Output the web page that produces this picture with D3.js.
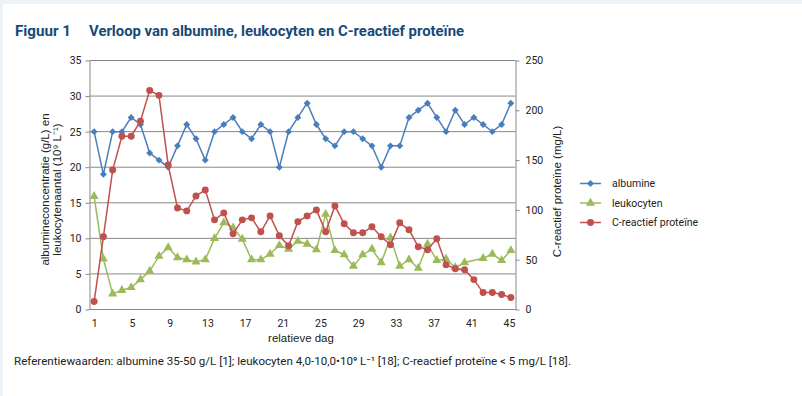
<!DOCTYPE html>
<html>
<head>
<meta charset="utf-8">
<script src="https://cdn.jsdelivr.net/npm/d3@7"></script>
<style>
  body { margin: 0; background: #fff; }
  svg { display: block; }
</style>
</head>
<body>
<script>
///////// data /////////
// meetmoment (46 punten) - de as toont dag 1..45
var meting = [1,2,3,4,5,6,7,8,9,10,11,12,13,14,15,16,17,18,19,20,21,22,23,
              24,25,26,27,28,29,30,31,32,33,34,35,36,37,38,39,40,41,42,43,44,45,46]
var dagTicks = [1,5,9,13,17,21,25,29,33,37,41,45]
var linksTicks = [0,5,10,15,20,25,30,35]
var rechtsTicks = [0,50,100,150,200,250]

var albumine = [25,19,25,25,27,26,22,21,20,23,26,24,21,25,26,27,25,24,26,25,20,25,27,
                29,26,24,23,25,25,24,23,20,23,23,27,28,29,27,25,28,26,27,26,25,26,29]
var leukocyten = [15.9,7.1,2.2,2.7,3.1,4.2,5.4,7.5,8.7,7.3,7.0,6.7,7.0,10.0,12.2,11.5,9.9,7.0,7.0,7.8,9.0,8.5,9.6,
                  9.2,8.4,13.4,8.3,7.7,6.1,7.7,8.5,6.6,10.1,6.1,7.0,5.8,9.2,6.9,7.1,5.9,6.6,null,7.2,7.8,6.9,8.3]
var crp = [8,73,140,174,174,189,220,215,145,102,99,114,120,90,97,76,90,92,78,94,74,64,88,
           94,100,78,104,86,77,77,83,73,65,87,80,63,60,71,45,41,40,30,17,17,15,12]

var reeksNamen = ['albumine', 'leukocyten', 'C-reactief proteïne']
var kleuren = ['#4a7ebb', '#9bbb59', '#c0504d']

///////// layout /////////
var width = 802
var height = 396
var pLeft = 89.5, pRight = 515.5, pTop = 60.5, pBottom = 309.5
var tickFont = 'Roboto, "Liberation Sans", sans-serif'
var titleFont = '"Liberation Sans", Arial, sans-serif'

var svg = d3.select('body').append('svg').attr('width', width).attr('height', height)

// lichte rand links/boven
svg.append('rect').attr('width', width).attr('height', height).attr('fill', '#edf2f7')
svg.append('rect').attr('x', 3).attr('y', 4).attr('width', width - 3).attr('height', height - 4).attr('fill', '#fff')

// scales
var x = d3.scaleBand().domain(meting).range([pLeft, pRight])
var xMid = function(d){ return x(d) + x.bandwidth() / 2 }
var xDag = d3.scaleLinear().domain([1, 45]).range([94.3, 509])
var yL = d3.scaleLinear().domain([0, 35]).range([pBottom, pTop])
var yR = d3.scaleLinear().domain([0, 250]).range([pBottom, pTop])

// titel
var titel = svg.append('g').attr('font-family', tickFont).attr('font-weight', 'bold')
               .attr('font-size', 15).attr('fill', '#164a78')
titel.append('text').attr('x', 15).attr('y', 36).text('Figuur 1')
     .attr('textLength', 56).attr('lengthAdjust', 'spacingAndGlyphs')
titel.append('text').attr('x', 89).attr('y', 36).text('Verloop van albumine, leukocyten en C-reactief proteïne')
     .attr('textLength', 375).attr('lengthAdjust', 'spacingAndGlyphs')

// gridlijnen
svg.append('g').selectAll('line').data(linksTicks).enter().append('line')
   .attr('x1', pLeft).attr('x2', pRight)
   .attr('y1', function(d){ return yL(d) }).attr('y2', function(d){ return yL(d) })
   .attr('stroke', '#878787').attr('stroke-width', 1)

function styleAxis(g) {
    g.select('.domain').attr('stroke', '#878787')
    g.selectAll('.tick line').attr('stroke', '#878787')
    g.selectAll('.tick text').attr('fill', '#222').attr('font-family', tickFont).attr('font-size', 10.5)
}

var axL = svg.append('g').attr('transform', 'translate(' + pLeft + ',0)')
   .call(d3.axisLeft(yL).tickValues(linksTicks).tickSize(4).tickPadding(4).tickSizeOuter(0))
styleAxis(axL)

var axR = svg.append('g').attr('transform', 'translate(' + pRight + ',0)')
   .call(d3.axisRight(yR).tickValues(rechtsTicks).tickSize(4).tickPadding(6).tickSizeOuter(0))
styleAxis(axR)

var axB = svg.append('g').attr('transform', 'translate(0,' + pBottom + ')')
   .call(d3.axisBottom(xDag).tickValues(dagTicks).tickSize(0).tickPadding(10))
axB.select('.domain').remove()
styleAxis(axB)
svg.append('line').attr('x1', pLeft).attr('x2', pRight).attr('y1', pBottom).attr('y2', pBottom).attr('stroke', '#878787')

// as-titels
var asTitel = svg.append('g').attr('font-family', titleFont).attr('font-size', 11.5).attr('fill', '#222')
                 .attr('text-anchor', 'middle')
var lt = asTitel.append('text').attr('transform', 'translate(49,189.5) rotate(-90)')
lt.append('tspan').attr('x', 0).attr('y', 0).text('albumineconcentratie (g/L) en')
lt.append('tspan').attr('x', 0).attr('y', 12).text('leukocytenaantal (10⁹ L⁻¹)')
asTitel.append('text').attr('transform', 'translate(561,191.5) rotate(-90)').text('C-reactief proteïne (mg/L)')
asTitel.append('text').attr('x', 301).attr('y', 342).text('relatieve dag')

// lijnen
function lijn(y) {
    return d3.line().x(function(d){ return xMid(d.m) }).y(function(d){ return y(d.v) })
}
function punten(waarden) {
    return meting.map(function(m, i){ return { m: m, v: waarden[i] } })
}

var reeksen = [
    { data: punten(albumine), y: yL, sym: 'ruit' },
    { data: punten(leukocyten), y: yL, sym: 'driehoek' },
    { data: punten(crp), y: yR, sym: 'cirkel' }
]

function symbool(s) {
    if (s === 'ruit') return d3.symbol().type(d3.symbolSquare).size(24)
    if (s === 'driehoek') return d3.symbol().type(d3.symbolTriangle).size(36)
    return d3.symbol().type(d3.symbolCircle).size(38)
}

reeksen.forEach(function(r, i) {
    var g = svg.append('g')
    // lege cellen overbruggen zoals in de bron
    var geldig = r.data.filter(function(d){ return d.v !== null })
    g.append('path').datum(geldig).attr('d', lijn(r.y))
     .attr('fill', 'none').attr('stroke', kleuren[i]).attr('stroke-width', 1.5)
    g.selectAll('path.m').data(geldig).enter().append('path').attr('class', 'm')
     .attr('d', symbool(r.sym))
     .attr('transform', function(d){
         return 'translate(' + xMid(d.m) + ',' + r.y(d.v) + ')' + (r.sym === 'ruit' ? ' rotate(45)' : '')
     })
     .attr('fill', kleuren[i])
})

// legenda
var leg = svg.append('g').selectAll('g').data(reeksNamen).enter().append('g')
             .attr('transform', function(d, i){ return 'translate(580,' + (183.5 + i * 19.5) + ')' })
leg.append('line').attr('x1', 0).attr('x2', 21).attr('stroke', function(d, i){ return kleuren[i] }).attr('stroke-width', 1.5)
leg.append('path').attr('d', function(d, i){ return symbool(reeksen[i].sym)() })
   .attr('transform', function(d, i){ return 'translate(10.5,0)' + (i === 0 ? ' rotate(45)' : '') })
   .attr('fill', function(d, i){ return kleuren[i] })
leg.append('text').attr('x', 32).attr('dy', '0.35em').text(function(d){ return d })
   .attr('font-family', tickFont).attr('font-size', 10.5).attr('fill', '#222')

// voetnoot
svg.append('text').attr('x', 14).attr('y', 365).attr('font-family', tickFont).attr('font-size', 11)
   .attr('fill', '#222').attr('textLength', 557).attr('lengthAdjust', 'spacingAndGlyphs')
   .text('Referentiewaarden: albumine 35-50 g/L [1]; leukocyten 4,0-10,0•10⁹ L⁻¹ [18]; C-reactief proteïne < 5 mg/L [18].')
</script>
</body>
</html>
